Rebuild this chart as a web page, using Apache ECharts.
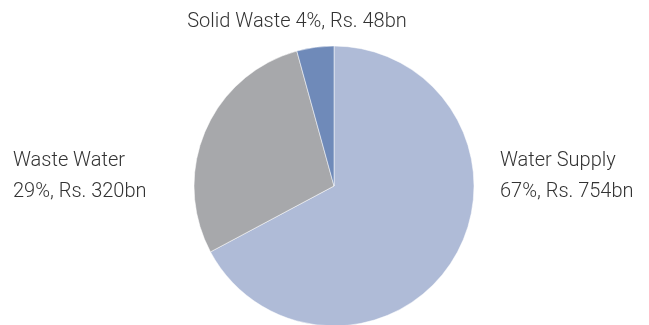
<!DOCTYPE html>
<html>
<head>
    <meta charset="utf-8" />
    <title></title>
    <script src="https://cdn.jsdelivr.net/npm/echarts@6/dist/echarts.min.js"></script>
    <style>
        body { margin: 0; background: #fff; }
    </style>
</head>
<body>
    <div id="main" style="width: 649px; height: 325px;"></div>
    <script type="text/javascript">
        // data
        var categories = ['Water Supply', 'Waste Water', 'Solid Waste'];
        var amounts = [754, 320, 48];          // Rs. bn
        var shares = [67, 29, 4];              // % as printed
        var colors = ['#afbbd7', '#a7a8ab', '#6f8ab9'];

        // label spots, one per slice
        var labelSpots = [
            { x: 500, y: 176, align: 'left' },
            { x: 13, y: 176, align: 'left' },
            { x: 297, y: 22, align: 'center' }
        ];

        var pieData = [];
        for (var i = 0; i < categories.length; i++) {
            pieData.push({
                name: categories[i],
                value: amounts[i],
                itemStyle: { color: colors[i] }
            });
        }

        var myChart = echarts.init(document.getElementById('main'));
        var option = {
            animation: false,
            series: [
                {
                    type: 'pie',
                    center: [334, 186],
                    radius: 140,
                    startAngle: 90,
                    clockwise: true,
                    data: pieData,
                    itemStyle: { borderColor: '#fff', borderWidth: 0.5 },
                    label: {
                        show: true,
                        position: 'outside',
                        color: '#333',
                        fontFamily: 'Roboto',
                        fontWeight: 300,
                        fontSize: 20,
                        lineHeight: 31,
                        formatter: function (p) {
                            var i = p.dataIndex;
                            if (i === 2) {
                                return p.name + ' ' + shares[i] + '%, Rs. ' + amounts[i] + 'bn';
                            }
                            return p.name + '\n' + shares[i] + '%, Rs. ' + amounts[i] + 'bn';
                        }
                    },
                    labelLine: { show: false },
                    labelLayout: function (params) {
                        var s = labelSpots[params.dataIndex];
                        return {
                            x: s.x,
                            y: s.y,
                            align: s.align,
                            verticalAlign: 'middle',
                            hideOverlap: false
                        };
                    }
                }
            ]
        };
        myChart.setOption(option);
    </script>
</body>
</html>
